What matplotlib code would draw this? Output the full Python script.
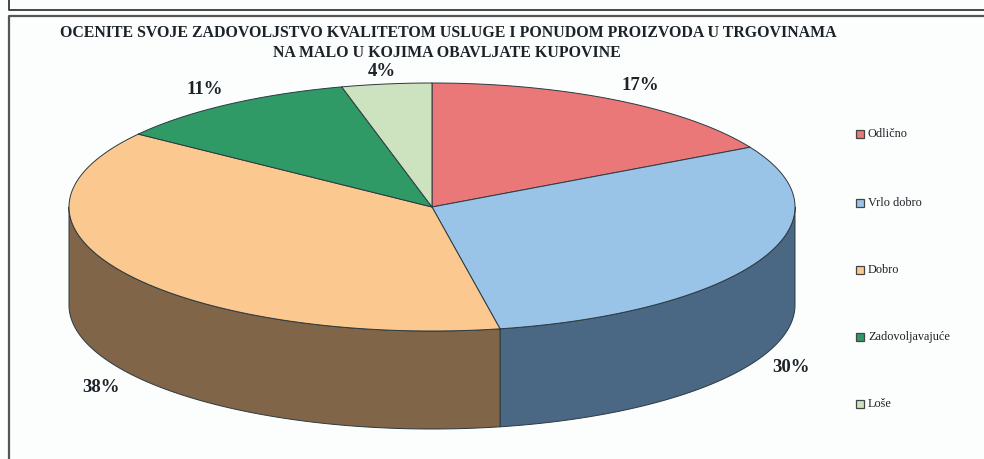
import numpy as np
import matplotlib
matplotlib.use("Agg")
import matplotlib.pyplot as plt
from matplotlib.patches import Rectangle

title_lines = ["OCENITE SVOJE ZADOVOLJSTVO KVALITETOM USLUGE I PONUDOM PROIZVODA U TRGOVINAMA",
               "NA MALO U KOJIMA OBAVLJATE KUPOVINE"]
categories = ["Odlično", "Vrlo dobro", "Dobro", "Zadovoljavajuće", "Loše"]
values = [17, 30, 38, 11, 4]
top_colors = ["#ea7878", "#9ac3e8", "#fbc88f", "#2f9a66", "#cde3bf"]
side_colors = ["#7d4040", "#4a6784", "#806549", "#1a5a3a", "#6d7a66"]
label_xy = [(640, 85), (791, 367), (101, 387), (205, 89), (382, 71)]
legend_y = [134, 203, 270, 337, 404]

plt.rcParams['font.family'] = ['Liberation Serif', 'DejaVu Serif']

fig = plt.figure(figsize=(9.84, 4.59), dpi=100, facecolor="#fcfdfd")
ax = fig.add_axes([0, 0, 1, 1])
ax.set_xlim(0, 984)
ax.set_ylim(459, 0)
ax.axis("off")

# page frames behind the chart
ax.plot([9, 9, 984], [0, 9.5, 9.5], color="#444444", lw=1.4)
ax.plot([984, 9, 9], [15.5, 15.5, 459], color="#555555", lw=1.6)

# ellipse of the pie
cx, cy, rx, ry = 432, 207, 363, 124
depth = 98


def arc(t0, t1, dy=0):
    t = np.radians(np.linspace(t0, t1, 200))
    return cx + rx * np.sin(t), cy + dy - ry * np.cos(t)


edges = np.cumsum([0] + values) * 3.6

# side wall, only the front half shows
for i in range(len(values)):
    t0, t1 = max(edges[i], 90), min(edges[i + 1], 270)
    if t0 >= t1:
        continue
    x, y = arc(t0, t1)
    xb, yb = arc(t1, t0, depth)
    ax.fill(np.r_[x, xb], np.r_[y, yb], facecolor=side_colors[i],
            edgecolor="#2b3a40", lw=0.7, joinstyle="round")

# top slices
for i in range(len(values)):
    x, y = arc(edges[i], edges[i + 1])
    ax.fill(np.r_[cx, x], np.r_[cy, y], facecolor=top_colors[i],
            edgecolor="#2b3a40", lw=0.7, joinstyle="round")

for (lx, ly), v in zip(label_xy, values):
    ax.text(lx, ly, f"{v}%", fontsize=13.5, fontweight="bold", color="#1c2328",
            ha="center", va="center")

ax.text(448, 33, title_lines[0], fontsize=11.4, fontweight="bold", color="#1c2328",
        ha="center", va="center")
ax.text(447, 53, title_lines[1], fontsize=11.4, fontweight="bold", color="#1c2328",
        ha="center", va="center")

for name, col, ly in zip(categories, top_colors, legend_y):
    ax.add_patch(Rectangle((855.5, ly - 4), 8, 8, facecolor=col, edgecolor="#444444", lw=0.9))
    ax.text(868, ly, name, fontsize=8.8, color="#1c2328", ha="left", va="center")

fig.savefig("out.png", dpi=100, facecolor=fig.get_facecolor())
